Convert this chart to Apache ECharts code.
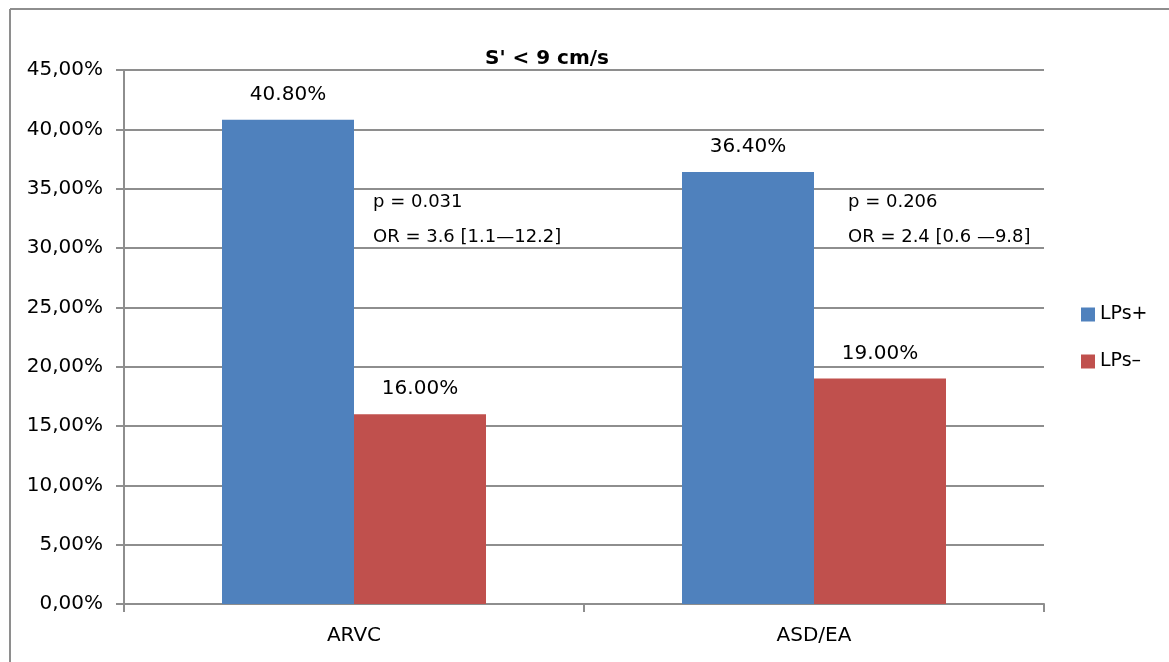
<!DOCTYPE html>
<html>
<head>
<meta charset="utf-8">
<script src="https://cdn.jsdelivr.net/npm/echarts@6/dist/echarts.min.js"></script>
<style>
html,body{margin:0;padding:0;background:#fff;}
#c{width:1169px;height:662px;}
</style>
</head>
<body>
<div id="c"></div>
<script>
const categories = ['ARVC', 'ASD/EA'];
const seriesNames = ['LPs+', 'LPs\u2013'];
const lpsPlus = [40.8, 36.4];
const lpsMinus = [16.0, 19.0];
const yTicks = { min: 0, max: 45, interval: 5 };
const notes = [
  ['p = 0.031', 'OR = 3.6 [1.1\u201412.2]'],
  ['p = 0.206', 'OR = 2.4 [0.6 \u20149.8]']
];

const FONT = '"DejaVu Sans", sans-serif';
const GRIDC = '#8e8e8e';
const chart = echarts.init(document.getElementById('c'));

const noteGraphics = [];
const noteX = [373, 848];
notes.forEach((n, i) => {
  noteGraphics.push({
    type: 'text', left: noteX[i], top: 193,
    style: { text: n[0], font: '18px ' + FONT, fill: '#000' }
  });
  noteGraphics.push({
    type: 'text', left: noteX[i], top: 228,
    style: { text: n[1], font: '18px ' + FONT, fill: '#000' }
  });
});

chart.setOption({
  animation: false,
  title: {
    text: "S' < 9 cm/s",
    left: 480, top: 44,
    textStyle: { fontFamily: FONT, fontSize: 20, fontWeight: 'bold', color: '#000' }
  },
  legend: {
    orient: 'vertical',
    left: 1081, top: 305, padding: 0,
    itemWidth: 14, itemHeight: 14, itemGap: 28,
    icon: 'rect',
    textStyle: { fontFamily: FONT, fontSize: 19, color: '#000' },
    data: seriesNames
  },
  grid: { left: 124, right: 125, top: 70, bottom: 58 },
  xAxis: {
    type: 'category',
    data: categories,
    boundaryGap: true,
    axisLine: { lineStyle: { color: GRIDC, width: 2 } },
    axisTick: { show: true, length: 8, lineStyle: { color: GRIDC, width: 2 } },
    axisLabel: { fontFamily: FONT, fontSize: 20, color: '#000', margin: 22 }
  },
  yAxis: {
    type: 'value',
    min: yTicks.min, max: yTicks.max, interval: yTicks.interval,
    axisLine: { show: true, lineStyle: { color: GRIDC, width: 2 } },
    axisTick: { show: true, length: 8, lineStyle: { color: GRIDC, width: 2 } },
    splitLine: { show: true, lineStyle: { color: GRIDC, width: 2 } },
    axisLabel: {
      fontFamily: FONT, fontSize: 20, color: '#000', margin: 21,
      formatter: v => v.toFixed(2).replace('.', ',') + '%'
    }
  },
  graphic: [
    { type: 'line', shape: { x1: 10, y1: 9, x2: 1169, y2: 9 }, style: { stroke: '#8e8e8e', lineWidth: 2 } },
    { type: 'line', shape: { x1: 10, y1: 9, x2: 10, y2: 662 }, style: { stroke: '#8e8e8e', lineWidth: 2 } }
  ].concat(noteGraphics),
  series: [
    {
      name: seriesNames[0], type: 'bar', data: lpsPlus,
      barWidth: 132, barGap: '0%',
      itemStyle: { color: '#4F81BD' },
      label: { show: true, position: 'top', distance: 15, fontFamily: FONT, fontSize: 20, color: '#000',
        formatter: p => p.value.toFixed(2) + '%' }
    },
    {
      name: seriesNames[1], type: 'bar', data: lpsMinus,
      barWidth: 132, barGap: '0%',
      itemStyle: { color: '#C0504D' },
      label: { show: true, position: 'top', distance: 15, fontFamily: FONT, fontSize: 20, color: '#000',
        formatter: p => p.value.toFixed(2) + '%' }
    }
  ]
});
</script>
</body>
</html>
